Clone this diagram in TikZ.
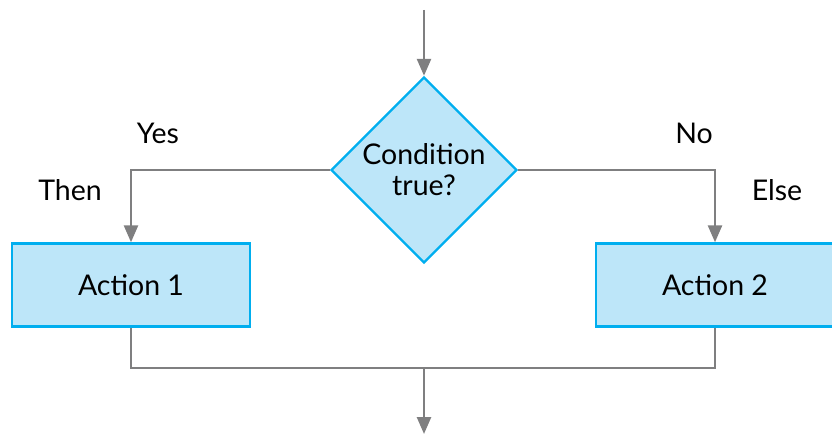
\documentclass[tikz,border=0pt]{standalone}
\usepackage{fontspec}
\setmainfont{Lato}
\usepackage{tikz}
\usetikzlibrary{arrows.meta}
\usetikzlibrary{shapes.geometric}
\definecolor{boxfill}{HTML}{BDE6F9}
\definecolor{boxline}{HTML}{00AEEF}
\definecolor{flowgray}{HTML}{7F7F80}

\begin{document}
\begin{tikzpicture}[line join=miter,>={Triangle[width=14pt,length=17pt]},x=1pt,y=-1pt,
  flow/.style={draw=flowgray,line width=2.6pt},
  actbox/.style={draw=boxline,fill=boxfill,line width=2.4pt,minimum width=238pt,minimum height=83pt,inner sep=0pt},
  lbl/.style={font=\fontsize{28.5}{34}\selectfont,inner sep=0pt}]
\useasboundingbox (0,0) rectangle (832,435);
\node [actbox,aspect=1,diamond,minimum width=186pt,minimum height=186pt,align=center,font=\fontsize{28.5}{31}\selectfont] (cond) at (424,170) {Condition\\true?};
\node [actbox,font=\fontsize{28.5}{34}\selectfont] (act1) at (131,285) {Action 1};
\node [actbox,font=\fontsize{28.5}{34}\selectfont] (act2) at (715,285) {Action 2};
\coordinate (entry) at (424,10);
\coordinate (merge) at (424,368);
\coordinate (exit) at (424,434);
\draw[flow,->] (entry) -- (cond.north);
\draw[flow,->] (cond.west) -| (act1.north);
\draw[flow,->] (cond.east) -| (act2.north);
\draw[flow] (act1.south) |- (merge) -| (act2.south);
\draw[flow,->] (merge) -- (exit);
\node [lbl] (yes) at (158,133) {Yes};
\node [lbl] (then) at (70,190) {Then};
\node [lbl] (no) at (694,133) {No};
\node [lbl] (else) at (777,190) {Else};
\end{tikzpicture}
\end{document}
